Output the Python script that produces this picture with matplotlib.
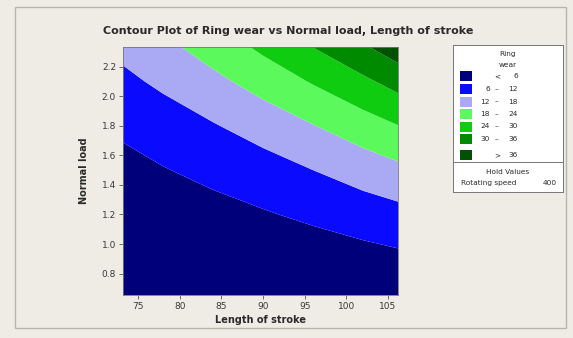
import numpy as np
import matplotlib
matplotlib.use("Agg")
import matplotlib.pyplot as plt
from matplotlib.patches import Rectangle

# ── Data: estimated Ring wear on a grid (read off the contour bands) ──────
stroke = [73, 78, 84, 90, 96, 102, 107]            # Length of stroke
load = [0.6, 0.9, 1.2, 1.5, 1.8, 2.1, 2.4]         # Normal load
# rows = load, cols = stroke
wear = [
    [-2.8, -2.5, -2.0, -1.4, -0.9, -0.2, 0.3],
    [-0.8, -0.1, 0.8, 1.7, 2.8, 3.9, 4.9],
    [1.6, 2.6, 4.0, 5.5, 7.1, 8.9, 10.4],
    [4.2, 5.7, 7.6, 9.5, 12.0, 14.7, 17.0],
    [7.0, 9.1, 11.6, 14.5, 17.8, 21.3, 24.4],
    [10.6, 13.1, 16.5, 20.4, 24.5, 28.8, 32.9],
    [14.2, 17.6, 21.9, 26.6, 31.7, 37.2, 42.3],
]
levels = [6, 12, 18, 24, 30, 36]
band_colors = ["#00007a", "#0a0aff", "#aaaaf4", "#5cf95c",
               "#10cc10", "#008a00", "#005200"]
hold_name = "Rotating speed"
hold_value = "400"

BG = "#efebe5"
TXT = "#2a2a2a"

fig = plt.figure(figsize=(5.73, 3.38), dpi=100)
fig.patch.set_facecolor(BG)

# outer frame
fig.add_artist(Rectangle((15 / 573, 1 - 328 / 338), 551 / 573, 321 / 338,
                         transform=fig.transFigure, fill=False,
                         edgecolor="#b8b4ae", linewidth=1.0))

ax = fig.add_axes([123 / 573, 1 - 295 / 338, 275 / 573, 248 / 338])
X, Y = np.meshgrid(stroke, load)
Z = np.array(wear)
bounds = [Z.min() - 1] + levels + [Z.max() + 1]
ax.contourf(X, Y, Z, levels=bounds, colors=band_colors, antialiased=True)

ax.set_xlim(73.2, 106.2)
ax.set_ylim(0.655, 2.333)
ax.set_xticks(range(75, 106, 5))
ax.set_yticks(np.arange(0.8, 2.21, 0.2))
ax.yaxis.set_major_formatter(matplotlib.ticker.FormatStrFormatter("%.1f"))
ax.tick_params(labelsize=6.5, colors="#555555", labelcolor="#3a3a3a",
               length=3, width=0.6, pad=2)
for s in ax.spines.values():
    s.set_edgecolor("#777777")
    s.set_linewidth(0.6)

ax.set_xlabel("Length of stroke", fontsize=7, fontweight="bold",
              color=TXT, labelpad=3)
ax.set_ylabel("Normal load", fontsize=7, fontweight="bold",
              color=TXT, labelpad=9)

fig.text(288 / 573, 1 - 31 / 338,
         "Contour Plot of Ring wear vs Normal load, Length of stroke",
         ha="center", va="center", fontsize=8, fontweight="bold", color=TXT)

# ── Legend box ───────────────────────────────────────────────────────────
lg = fig.add_axes([453 / 573, 1 - 192 / 338, 110 / 573, 147 / 338])
lg.set_xlim(453, 563)
lg.set_ylim(192, 45)
lg.set_facecolor("white")
lg.set_xticks([])
lg.set_yticks([])
for s in lg.spines.values():
    s.set_edgecolor("#777777")
    s.set_linewidth(0.7)

fs = 5.3
lg.text(508, 54, "Ring", ha="center", va="center", fontsize=fs, color=TXT)
lg.text(508, 65, "wear", ha="center", va="center", fontsize=fs, color=TXT)

labels = [("", "<", str(levels[0]))]
for lo, hi in zip(levels[:-1], levels[1:]):
    labels.append((str(lo), "–", str(hi)))
labels.append(("", ">", str(levels[-1])))

row_y = [76, 89, 101.5, 114, 126.5, 139, 155]
for y, col, (lo, sym, hi) in zip(row_y, band_colors, labels):
    lg.add_patch(Rectangle((460, y - 5), 12, 10, facecolor=col,
                           edgecolor="none"))
    lg.text(490, y, lo, ha="right", va="center", fontsize=fs, color=TXT)
    lg.text(497, y, sym, ha="center", va="center", fontsize=fs, color=TXT)
    lg.text(518, y, hi, ha="right", va="center", fontsize=fs, color=TXT)

lg.axhline(162, color="#777777", linewidth=0.7)
lg.text(508, 172, "Hold Values", ha="center", va="center",
        fontsize=fs, color=TXT)
lg.text(461, 183, hold_name, ha="left", va="center", fontsize=fs, color=TXT)
lg.text(557, 183, hold_value, ha="right", va="center", fontsize=fs, color=TXT)

fig.savefig("out.png", dpi=100, facecolor=BG)
